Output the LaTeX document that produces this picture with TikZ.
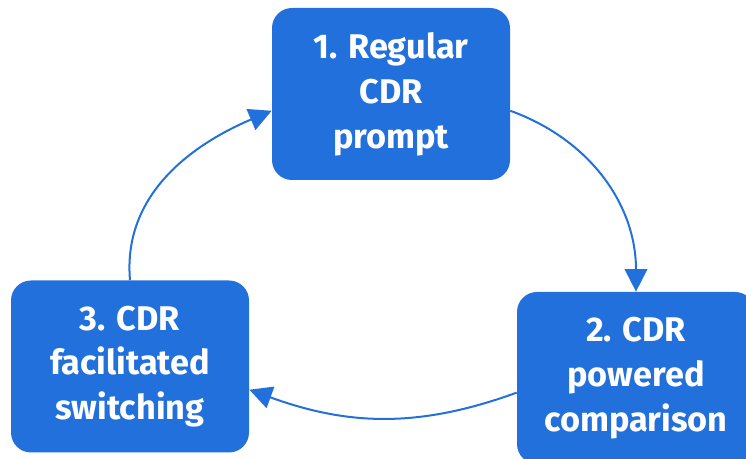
\documentclass[tikz,border=0pt]{standalone}
\usepackage{fontspec}
\setsansfont{Fira Sans}
\usetikzlibrary{arrows.meta}
\definecolor{cdrblue}{HTML}{2270DC}
\tikzset {
  % one step of the cycle
  step node/.style = {
    fill = cdrblue,
    text = white,
    rounded corners = 0.4cm,
    minimum width = 4.76cm,
    minimum height = 3.44cm,
    align = center,
    font = \sffamily\bfseries\fontsize{19.5}{25.5}\selectfont
  },
  % curved arrow between two steps
  loop arr/.style = {
    draw = cdrblue,
    line width = 0.04cm,
    -{Triangle[length = 0.45cm, width = 0.45cm]}
  }
}
\begin{document}
\begin{tikzpicture}
    \useasboundingbox (0,0) rectangle (14.92,9.18);
    \node[step node] (regular) at (7.82,7.30) {1. Regular\\CDR\\prompt};
    \node[step node] (compare) at (12.72,1.62) {2. CDR\\powered\\comparison};
    \node[step node] (switch) at (2.60,1.85) {3. CDR\\facilitated\\switching};

    \draw[loop arr] (regular.-8) to[out=-20, in=90] (compare.north);
    \draw[loop arr] (compare.187) to[out=200, in=-20] (switch.-11);
    \draw[loop arr] (switch.north) to[out=95, in=203] (regular.188);
  \end{tikzpicture}
\end{document}
